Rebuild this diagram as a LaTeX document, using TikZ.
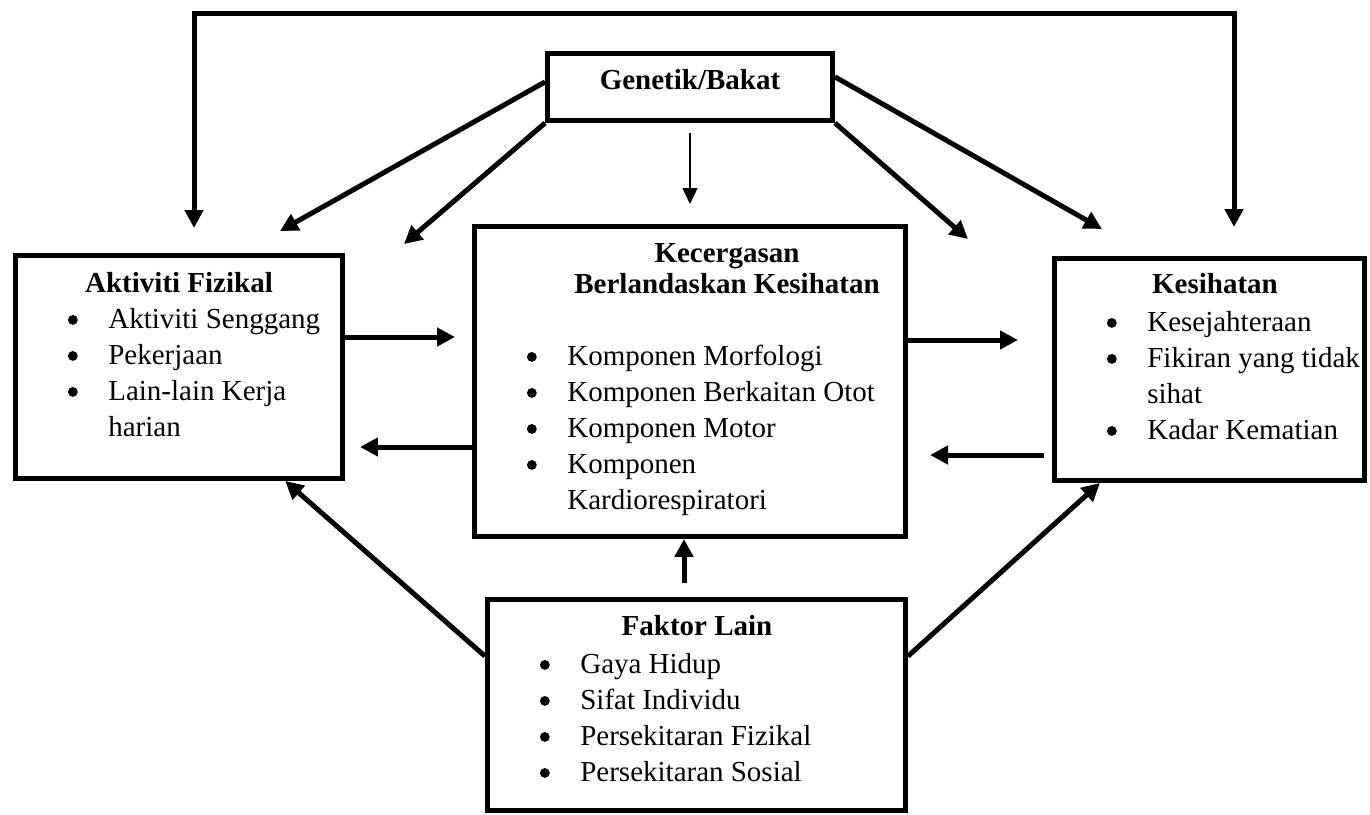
\documentclass[tikz,border=0pt]{standalone}
\usepackage{fontspec}
\setmainfont{Liberation Serif}
\usetikzlibrary{arrows.meta}
\newcommand{\itm}{\makebox[0.9cm][l]{\hspace{2.6pt}\tikz[baseline=-4.6pt]\fill (0,0) circle (2.8pt);}}

\begin{document}
\begin{tikzpicture}[
x=0.02cm,y=-0.02cm,
>={Triangle[length=0.36cm,width=0.36cm]},
box/.style={rectangle,draw,line width=0.1cm,inner sep=0pt},
ttl/.style={anchor=base,inner sep=0pt,font=\fontsize{16.5}{20.5}\selectfont\bfseries},
lst/.style={anchor=base west,inner sep=0pt,font=\fontsize{16.5}{20.5}\selectfont},
arr/.style={->,line width=0.1cm},
thinarr/.style={-{Triangle[length=0.32cm,width=0.3cm]},line width=0.75pt}
]
\useasboundingbox (0,0) rectangle (1370,815);

% boxes
\node[box,minimum width=5.7cm,minimum height=1.34cm] (genetik) at (690,87) {};
\node[box,minimum width=6.54cm,minimum height=4.46cm] (aktiviti) at (179,367) {};
\node[box,minimum width=8.63cm,minimum height=6.2cm] (central) at (690,381.5) {};
\node[box,minimum width=6.2cm,minimum height=4.44cm] (kesihatan) at (1209.5,369.5) {};
\node[box,minimum width=8.36cm,minimum height=4.23cm] (faktor) at (696.5,705) {};

% texts
\node[ttl] (genetiktitle) at (690,89) {Genetik/Bakat};

\node[ttl] (aktivititle) at (179,292) {Aktiviti Fizikal};
\node[lst] (aktivilist) at (63,328) {\begin{tabular}[t]{@{}l@{}}
\itm Aktiviti Senggang\\
\itm Pekerjaan\\
\itm Lain-lain Kerja\\
\hspace*{0.9cm}harian
\end{tabular}};

\node[ttl] (centraltitle) at (727,262) {\def\arraystretch{0.88}\begin{tabular}[t]{@{}c@{}}
Kecergasan\\
Berlandaskan Kesihatan
\end{tabular}};
\node[lst] (centrallist) at (522,365) {\begin{tabular}[t]{@{}l@{}}
\itm Komponen Morfologi\\
\itm Komponen Berkaitan Otot\\
\itm Komponen Motor\\
\itm Komponen\\
\hspace*{0.9cm}Kardiorespiratori
\end{tabular}};

\node[ttl] (kesihatantitle) at (1215,293) {Kesihatan};
\node[lst] (kesihatanlist) at (1102,331) {\begin{tabular}[t]{@{}l@{}}
\itm Kesejahteraan\\
\itm Fikiran yang tidak\\
\hspace*{0.9cm}sihat\\
\itm Kadar Kematian
\end{tabular}};

\node[ttl] (faktortitle) at (697,635) {Faktor Lain};
\node[lst] (faktorlist) at (535,673) {\begin{tabular}[t]{@{}l@{}}
\itm Gaya Hidup\\
\itm Sifat Individu\\
\itm Persekitaran Fizikal\\
\itm Persekitaran Sosial
\end{tabular}};

% free ends
\coordinate (gtip1) at (280,231);
\coordinate (gtip2) at (404,244);
\coordinate (gtip3) at (968,239);
\coordinate (gtip4) at (1102,229);
\coordinate (gsrc) at (690,133);
\coordinate (gtip5) at (690,204);
\coordinate (atip) at (194,228);
\coordinate (htip) at (1234,227);
\coordinate (a2c) at (455,337);
\coordinate (c2a) at (360,447);
\coordinate (c2h) at (1018,340);
\coordinate (h2c) at (930,455);
\coordinate (f2c) at (684,583);

% connectors
\draw[arr,<->] (atip) -- ++(0,-215) -| (htip);
\draw[arr] (genetik.178) -- (gtip1);
\draw[arr] (genetik.south west) -- (gtip2);
\draw[thinarr] (gsrc) -- (gtip5);
\draw[arr] (genetik.south east) -- (gtip3);
\draw[arr] (genetik.4) -- (gtip4);

\draw[arr] (aktiviti.east |- a2c) -- (a2c);
\draw[arr] (central.west |- c2a) -- (c2a);
\draw[arr] (central.east |- c2h) -- (c2h);
\draw[arr,shorten <=0.16cm] (kesihatan.west |- h2c) -- (h2c);

\draw[arr] (f2c) -- (central.south -| f2c);
\draw[arr] (faktor.167) -- (aktiviti.-47);
\draw[arr] (faktor.13) -- (kesihatan.-134);
\end{tikzpicture}
\end{document}
